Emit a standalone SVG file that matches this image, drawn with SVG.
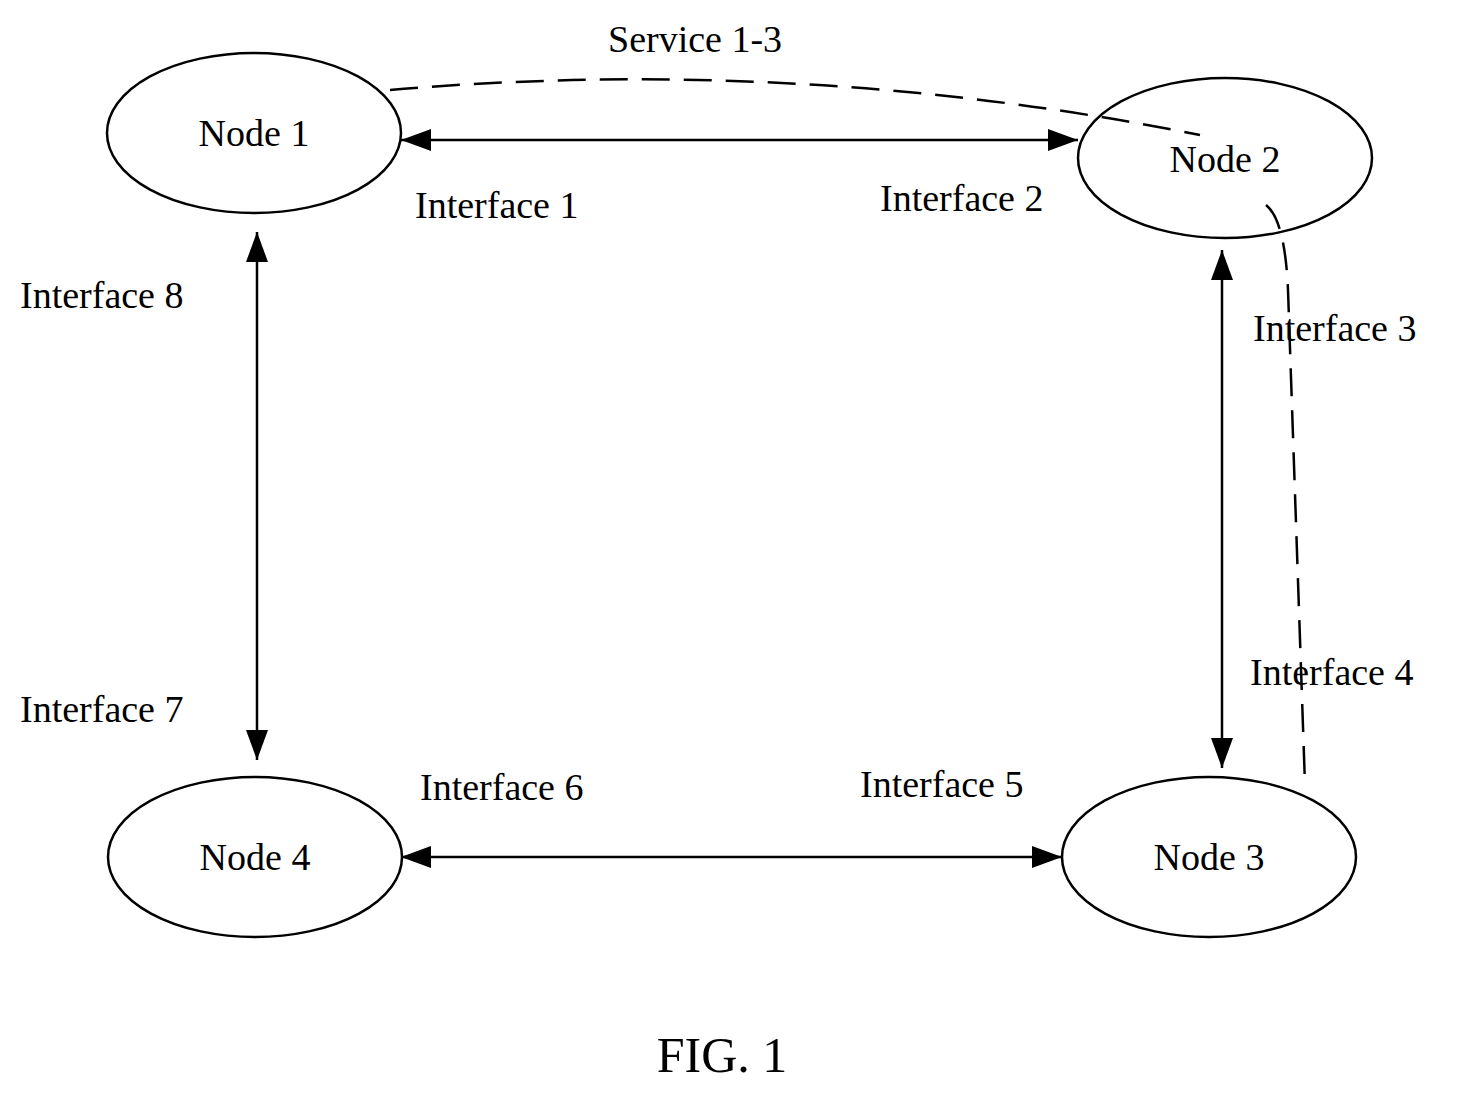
<svg xmlns="http://www.w3.org/2000/svg" width="1471" height="1093" viewBox="0 0 1471 1093">
<style>
text{font-family:"Liberation Serif","Times New Roman",serif;font-size:38px;fill:#000}
.n{fill:none;stroke:#000;stroke-width:2.5}
.c{stroke:#000;stroke-width:2.5;fill:none}
.d{stroke:#000;stroke-width:2.5;fill:none;stroke-dasharray:28,14}
</style>
<defs><marker id="a" markerWidth="10" markerHeight="8" refX="10" refY="4" orient="auto-start-reverse" markerUnits="userSpaceOnUse" viewBox="0 0 10 8"><path d="M0,0L10,4L0,8z" fill="#000"/></marker>
<marker id="b" markerWidth="30" markerHeight="22" refX="30" refY="11" orient="auto-start-reverse" markerUnits="userSpaceOnUse" viewBox="0 0 30 22"><path d="M0,0L30,11L0,22z" fill="#000"/></marker></defs>
<g id="node1"><ellipse class="n" cx="254" cy="133" rx="147" ry="80"/><text x="254" y="146" text-anchor="middle">Node 1</text></g>
<g id="node2"><ellipse class="n" cx="1225" cy="158" rx="147" ry="80"/><text x="1225" y="172" text-anchor="middle">Node 2</text></g>
<g id="node3"><ellipse class="n" cx="1209" cy="857" rx="147" ry="80"/><text x="1209" y="870" text-anchor="middle">Node 3</text></g>
<g id="node4"><ellipse class="n" cx="255" cy="857" rx="147" ry="80"/><text x="255" y="870" text-anchor="middle">Node 4</text></g>
<g id="connectors">
<line class="c" x1="401" y1="140" x2="1078" y2="140" marker-start="url(#b)" marker-end="url(#b)"/>
<line class="c" x1="257" y1="232" x2="257" y2="760" marker-start="url(#b)" marker-end="url(#b)"/>
<line class="c" x1="1222" y1="250" x2="1222" y2="768" marker-start="url(#b)" marker-end="url(#b)"/>
<line class="c" x1="401" y1="857" x2="1062" y2="857" marker-start="url(#b)" marker-end="url(#b)"/>
<path class="d" d="M390,90 Q800,55 1200,135"/>
<path class="d" d="M1266,205 Q1285,220 1288,290 L1305,785"/>
</g>
<text x="608" y="52">Service 1-3</text>
<text x="415" y="218">Interface 1</text>
<text x="880" y="211">Interface 2</text>
<text x="1253" y="341">Interface 3</text>
<text x="1250" y="685">Interface 4</text>
<text x="860" y="797">Interface 5</text>
<text x="420" y="800">Interface 6</text>
<text x="20" y="722">Interface 7</text>
<text x="20" y="308">Interface 8</text>
<text x="722" y="1072" text-anchor="middle" style="font-size:50px">FIG. 1</text>
</svg>
